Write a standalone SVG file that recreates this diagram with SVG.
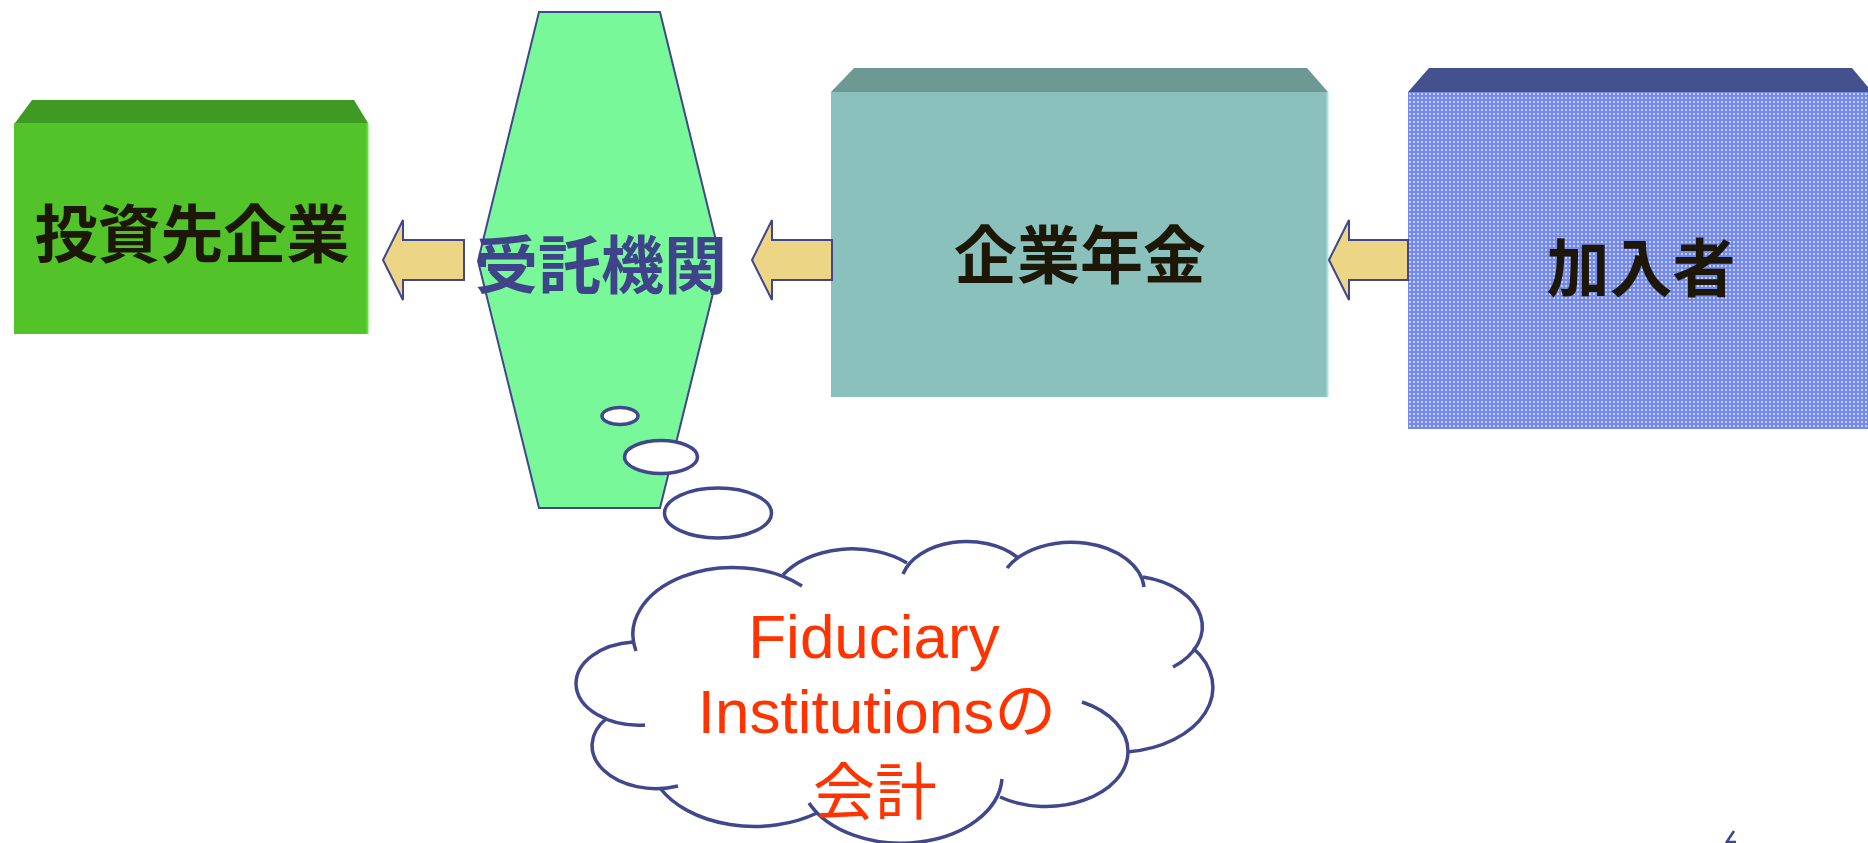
<svg xmlns="http://www.w3.org/2000/svg" width="1868" height="843" viewBox="0 0 1868 843">
<defs>
<style>
.lbl{font-family:"Noto Sans CJK JP","Noto Sans CJK SC",sans-serif;font-weight:700;font-size:63px;fill:#1d1708;text-anchor:middle}
.arrow{fill:#ECD685;stroke:#40478C;stroke-width:2;stroke-linejoin:miter}
.bub{fill:#ffffff;stroke:#40478C;stroke-width:3.5}
.lobe{fill:none;stroke:#40478C;stroke-width:3.5;stroke-linecap:butt}
.cl{font-family:"Liberation Sans","Noto Sans CJK JP",sans-serif;font-size:62px;fill:#FF3300;text-anchor:middle}
</style>
<pattern id="dots" width="4" height="4" patternUnits="userSpaceOnUse">
<rect width="4" height="4" fill="#7489ED"/>
<rect x="1" y="1" width="2" height="2" fill="#C6D0FA"/>
</pattern>
</defs>
<rect width="1868" height="843" fill="#ffffff"/>

<g id="node-toushisaki">
<polygon points="32,100 354,100 368,123 15,123" fill="#3F9A22"/>
<rect x="14" y="123" width="354" height="211" fill="#52C42A"/>
<line x1="367.5" y1="123" x2="367.5" y2="334" stroke="#62E23A" stroke-width="2"/>
<text class="lbl" x="192" y="257">投資先企業</text>
</g>

<g id="node-jutaku">
<polygon points="539,12 660,12 721,261 660,508 539,508 478,261" fill="#78F898" stroke="#40478C" stroke-width="2"/>
<text class="lbl" x="601" y="288" style="fill:#3F448A">受託機関</text>
</g>

<g id="node-kigyounenkin">
<polygon points="854,68 1307,68 1328,92 831,92" fill="#6E9893"/>
<rect x="831" y="92" width="497" height="305" fill="#8BC1BC"/>
<line x1="1327.5" y1="92" x2="1327.5" y2="397" stroke="#A6E4DF" stroke-width="2"/>
<text class="lbl" x="1080" y="278">企業年金</text>
</g>

<g id="node-kanyusha">
<polygon points="1429,68 1852,68 1868,87 1868,92 1408,92" fill="#43528F"/>
<rect x="1408" y="92" width="460" height="337" fill="url(#dots)"/>
<text class="lbl" x="1641" y="291">加入者</text>
</g>

<g id="connectors">
<polygon class="arrow" points="383,260 403,220 403,240 464,240 464,280 403,280 403,300"/>
<polygon class="arrow" points="752,260 772,220 772,240 832,240 832,280 772,280 772,300"/>
<polygon class="arrow" points="1329,260 1349,220 1349,240 1408,240 1408,280 1349,280 1349,300"/>
</g>

<g id="thought-bubbles">
<ellipse class="bub" cx="620" cy="416" rx="18" ry="8.5"/>
<ellipse class="bub" cx="661" cy="457" rx="36.5" ry="16.5"/>
<ellipse class="bub" cx="718" cy="513" rx="53.5" ry="25"/>
</g>

<g id="node-cloud">
<path class="lobe" d="M636,651 A100,67 0 0 1 802,586"/>
<path class="lobe" d="M783,575 A81,54 0 0 1 907,563"/>
<path class="lobe" d="M903,574 A66,44 0 0 1 1017,557"/>
<path class="lobe" d="M1007,568 A73,49 0 0 1 1144,587"/>
<path class="lobe" d="M1143,577 A76,51 0 0 1 1173,667"/>
<path class="lobe" d="M1193,648 A97,65 0 0 1 1127,752"/>
<path class="lobe" d="M1082,702 A82,55 0 0 1 1128,752 A82,55 0 0 1 1000,797"/>
<path class="lobe" d="M1002,779 A101,68 0 0 1 809,803"/>
<path class="lobe" d="M817,813 A106,70 0 0 1 660,788"/>
<path class="lobe" d="M678,786 A64,43 0 0 1 607,718"/>
<path class="lobe" d="M645,725 A63,42 0 0 1 576,684 A63,42 0 0 1 633,642"/>
<text class="cl" x="874" y="658">Fiduciary</text>
<text class="cl" x="877" y="733">Institutionsの</text>
<text class="cl" x="875" y="815">会計</text>
</g>

<g id="mark">
<path d="M1734,831 L1726,843 M1727,842 H1736" fill="none" stroke="#40478C" stroke-width="2.5"/>
</g>
</svg>
